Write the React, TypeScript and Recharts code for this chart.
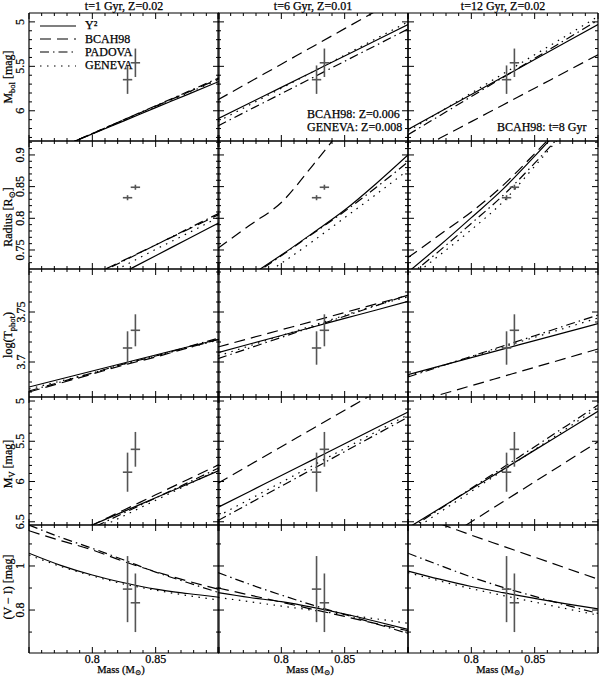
import React from 'react';
import { ComposedChart, Line, Scatter, XAxis, YAxis, ErrorBar, Legend } from 'recharts';

const FONT = "'Liberation Serif', 'DejaVu Serif', serif";
const FS = 12;

// ---- masses (x) ----
const MASS = [0.75, 0.775, 0.8, 0.825, 0.85, 0.875, 0.9];
const MASS_TICKS = [0.75, 0.76, 0.77, 0.78, 0.79, 0.8, 0.81, 0.82, 0.83, 0.84, 0.85, 0.86, 0.87, 0.88, 0.89, 0.9];
const MASS_MAJOR = [0.75, 0.8, 0.85, 0.9];
const MASS_LABEL_VALUES = [0.8, 0.85];
const MASS_LABEL_TEXT = ['0.8', '0.85'];

const MODELS = ['Y²', 'BCAH98', 'PADOVA', 'GENEVA'];
const DASHES = [undefined, '11 6', '9 4 1.5 4', '1.5 5.5'];

const COL_TITLES = ['t=1 Gyr, Z=0.02', 't=6 Gyr, Z=0.01', 't=12 Gyr, Z=0.02'];

// ---- binary components ----
const STAR_MASS = [0.8278, 0.834];
const STAR_MASS_ERR = [0.0037, 0.0037];
const STAR_MBOL = [5.65, 5.46];
const STAR_MBOL_ERR = [0.16, 0.16];
const STAR_RADIUS = [0.8325, 0.849];
const STAR_RADIUS_ERR = [0.004, 0.004];
const STAR_LOGT = [3.714, 3.7317];
const STAR_LOGT_ERR = [0.0167, 0.016];
const STAR_MV = [5.884, 5.6];
const STAR_MV_ERR = [0.243, 0.216];
const STAR_VI = [0.895, 0.833];
const STAR_VI_ERR = [0.15, 0.133];

// ---- model curves: [Y2, BCAH98, PADOVA, GENEVA] at MASS ----
const MBOL_1 = [
  [6.556, 6.409, 6.26, 6.113, 5.965, 5.818, 5.67],
  [6.565, 6.41, 6.257, 6.1, 5.948, 5.794, 5.64],
  [6.57, 6.41, 6.256, 6.1, 5.943, 5.787, 5.63],
  [6.56, 6.41, 6.258, 6.106, 5.954, 5.802, 5.65],
];
const MBOL_6 = [
  [6.09, 5.913, 5.737, 5.56, 5.383, 5.207, 5.03],
  [5.876, 5.676, 5.476, 5.276, 5.076, 4.876, 4.676],
  [6.17, 5.988, 5.807, 5.625, 5.443, 5.262, 5.08],
  [6.12, 5.933, 5.747, 5.56, 5.373, 5.187, 5.0],
];
const MBOL_12 = [
  [6.21, 6.013, 5.817, 5.62, 5.423, 5.227, 5.03],
  [6.498, 6.31, 6.122, 5.934, 5.746, 5.558, 5.37],
  [6.27, 6.055, 5.84, 5.625, 5.41, 5.195, 4.98],
  [6.23, 6.015, 5.8, 5.585, 5.37, 5.155, 4.94],
];
const RAD_1 = [
  [0.637, 0.663, 0.689, 0.715, 0.741, 0.767, 0.793],
  [0.663, 0.687, 0.71, 0.734, 0.758, 0.782, 0.806],
  [0.659, 0.684, 0.709, 0.733, 0.758, 0.783, 0.808],
  [0.648, 0.674, 0.7, 0.725, 0.751, 0.776, 0.802],
];
const RAD_6 = [
  [0.677, 0.709, 0.742, 0.777, 0.813, 0.855, 0.9],
  [0.7527, 0.789, 0.825, 0.884, 0.947, 1.01, 1.07],
  [0.675, 0.707, 0.741, 0.776, 0.811, 0.849, 0.889],
  [0.665, 0.697, 0.729, 0.764, 0.801, 0.838, 0.876],
];
const RAD_12 = [
  [0.715, 0.757, 0.801, 0.846, 0.898, 0.952, 1.005],
  [0.738, 0.774, 0.81, 0.852, 0.902, 0.955, 1.01],
  [0.708, 0.749, 0.792, 0.836, 0.887, 0.941, 0.995],
  [0.703, 0.742, 0.782, 0.826, 0.882, 0.94, 0.995],
];
const LOGT_1 = [
  [3.675, 3.683, 3.691, 3.699, 3.707, 3.715, 3.7227],
  [3.67, 3.679, 3.688, 3.697, 3.705, 3.714, 3.7227],
  [3.671, 3.68, 3.689, 3.698, 3.706, 3.715, 3.724],
  [3.673, 3.681, 3.689, 3.698, 3.706, 3.714, 3.722],
];
const LOGT_6 = [
  [3.7094, 3.718, 3.7265, 3.735, 3.7436, 3.752, 3.7607],
  [3.715, 3.7236, 3.7322, 3.7408, 3.7495, 3.7581, 3.7667],
  [3.7034, 3.714, 3.7246, 3.7352, 3.7458, 3.7564, 3.767],
  [3.706, 3.7162, 3.7263, 3.7365, 3.7467, 3.7568, 3.765],
];
const LOGT_12 = [
  [3.6874, 3.6959, 3.7044, 3.7129, 3.7214, 3.7299, 3.7384],
  [3.658, 3.6672, 3.6763, 3.6855, 3.6947, 3.7038, 3.713],
  [3.685, 3.6953, 3.7057, 3.716, 3.7263, 3.7367, 3.747],
  [3.686, 3.6957, 3.7053, 3.715, 3.7247, 3.7343, 3.744],
];
const MV_1 = [
  [6.878, 6.709, 6.54, 6.371, 6.202, 6.033, 5.864],
  [6.915, 6.728, 6.54, 6.353, 6.165, 5.978, 5.79],
  [6.951, 6.764, 6.577, 6.39, 6.204, 6.017, 5.83],
  [7.0, 6.808, 6.617, 6.425, 6.233, 6.042, 5.85],
];
const MV_6 = [
  [6.32, 6.123, 5.925, 5.728, 5.531, 5.333, 5.136],
  [6.02, 5.794, 5.568, 5.341, 5.115, 4.889, 4.663],
  [6.485, 6.271, 6.057, 5.843, 5.628, 5.414, 5.2],
  [6.43, 6.22, 6.01, 5.8, 5.59, 5.38, 5.17],
];
const MV_12 = [
  [6.576, 6.335, 6.093, 5.852, 5.61, 5.369, 5.127],
  [6.997, 6.749, 6.5, 6.252, 6.003, 5.755, 5.506],
  [6.601, 6.343, 6.084, 5.826, 5.567, 5.309, 5.05],
  [6.643, 6.383, 6.123, 5.863, 5.604, 5.344, 5.08],
];
const VI_1 = [
  [1.058, 1.003, 0.959, 0.924, 0.895, 0.875, 0.858],
  [1.16, 1.115, 1.073, 1.02, 0.974, 0.932, 0.894],
  [1.186, 1.13, 1.08, 1.027, 0.972, 0.925, 0.879],
  [1.05, 0.998, 0.955, 0.918, 0.89, 0.866, 0.845],
];
const VI_6 = [
  [0.879, 0.857, 0.838, 0.812, 0.782, 0.748, 0.712],
  [0.9, 0.868, 0.836, 0.803, 0.771, 0.738, 0.706],
  [0.97, 0.917, 0.868, 0.822, 0.78, 0.737, 0.694],
  [0.857, 0.838, 0.818, 0.799, 0.779, 0.76, 0.74],
];
const VI_12 = [
  [0.977, 0.94, 0.907, 0.879, 0.853, 0.828, 0.805],
  [1.24, 1.192, 1.14, 1.09, 1.04, 0.99, 0.94],
  [1.058, 1.003, 0.95, 0.903, 0.862, 0.822, 0.785],
  [0.97, 0.932, 0.897, 0.866, 0.836, 0.806, 0.777],
];

// ---- y-axis ticks ----
const MBOL_TICKS = [5, 5.1, 5.2, 5.3, 5.4, 5.5, 5.6, 5.7, 5.8, 5.9, 6, 6.1, 6.2, 6.3];
const MBOL_MAJOR = [5, 5.5, 6];
const MBOL_LABELS = ['5', '5.5', '6'];
const RAD_TICKS = [0.73, 0.74, 0.75, 0.76, 0.77, 0.78, 0.79, 0.8, 0.81, 0.82, 0.83, 0.84, 0.85, 0.86, 0.87, 0.88, 0.89, 0.9, 0.91, 0.92];
const RAD_MAJOR = [0.75, 0.8, 0.85, 0.9];
const RAD_LABELS = ['0.75', '0.8', '0.85', '0.9'];
const LOGT_TICKS = [3.67, 3.68, 3.69, 3.7, 3.71, 3.72, 3.73, 3.74, 3.75, 3.76, 3.77, 3.78, 3.79];
const LOGT_MAJOR = [3.7, 3.75];
const LOGT_LABELS = ['3.7', '3.75'];
const MV_TICKS = [5, 5.1, 5.2, 5.3, 5.4, 5.5, 5.6, 5.7, 5.8, 5.9, 6, 6.1, 6.2, 6.3, 6.4, 6.5];
const MV_MAJOR = [5, 5.5, 6, 6.5];
const MV_LABELS = ['5', '5.5', '6', '6.5'];
const VI_TICKS = [0.7, 0.8, 0.9, 1.0, 1.1];
const VI_MAJOR = [0.8, 1.0];
const VI_LABELS = ['0.8', '1'];

const ROWS = [
  { domain: [4.9, 6.34], reversed: true, ticks: MBOL_TICKS, major: MBOL_MAJOR, labels: MBOL_LABELS, curves: [MBOL_1, MBOL_6, MBOL_12], star: STAR_MBOL, starErr: STAR_MBOL_ERR },
  { domain: [0.72, 0.922], reversed: false, ticks: RAD_TICKS, major: RAD_MAJOR, labels: RAD_LABELS, curves: [RAD_1, RAD_6, RAD_12], star: STAR_RADIUS, starErr: STAR_RADIUS_ERR },
  { domain: [3.665, 3.793], reversed: false, ticks: LOGT_TICKS, major: LOGT_MAJOR, labels: LOGT_LABELS, curves: [LOGT_1, LOGT_6, LOGT_12], star: STAR_LOGT, starErr: STAR_LOGT_ERR },
  { domain: [4.95, 6.54], reversed: true, ticks: MV_TICKS, major: MV_MAJOR, labels: MV_LABELS, curves: [MV_1, MV_6, MV_12], star: STAR_MV, starErr: STAR_MV_ERR },
  { domain: [0.605, 1.186], reversed: false, ticks: VI_TICKS, major: VI_MAJOR, labels: VI_LABELS, curves: [VI_1, VI_6, VI_12], star: STAR_VI, starErr: STAR_VI_ERR },
];

const COL_X = [29, 218, 408];
const ROW_Y = [13, 141, 269, 397, 525];
const PW = 190;
const PH = 128;
const P = 30;
const MAJOR_LEN = 6;
const MINOR_LEN = 3;

const near = (a: number, b: number) => Math.abs(a - b) < 1e-6;

const makeXTick = (side: 'top' | 'bottom', showLabels: boolean) => (props: any) => {
  const { x, y, payload } = props;
  const v = payload.value;
  const major = MASS_MAJOR.some((m) => near(m, v));
  const len = major ? MAJOR_LEN : MINOR_LEN;
  const dir = side === 'bottom' ? -1 : 1;
  const li = MASS_LABEL_VALUES.findIndex((m) => near(m, v));
  return (
    <g>
      <line x1={x} y1={y} x2={x} y2={y + dir * len} stroke="#000" strokeWidth={1} />
      {showLabels && li >= 0 && (
        <text x={x} y={y + 9.5} textAnchor="middle" fontFamily={FONT} fontSize={FS} fill="#000" stroke="#000" strokeWidth={0.25}>
          {MASS_LABEL_TEXT[li]}
        </text>
      )}
    </g>
  );
};

const makeYTick = (side: 'left' | 'right', major: number[], labels: string[] | null) => (props: any) => {
  const { x, y, payload } = props;
  const v = payload.value;
  const mi = major.findIndex((m) => near(m, v));
  const len = mi >= 0 ? MAJOR_LEN : MINOR_LEN;
  const dir = side === 'left' ? 1 : -1;
  return (
    <g>
      <line x1={x} y1={y} x2={x + dir * len} y2={y} stroke="#000" strokeWidth={1} />
      {labels && mi >= 0 && (
        <text
          x={x - 8.5}
          y={y}
          transform={`rotate(-90, ${x - 8.5}, ${y})`}
          textAnchor="middle"
          dominantBaseline="central"
          fontFamily={FONT}
          fontSize={FS}
          fill="#000"
          stroke="#000"
          strokeWidth={0.25}
        >
          {labels[mi]}
        </text>
      )}
    </g>
  );
};

const renderLegend = () => (
  <div style={{ fontFamily: FONT, fontSize: FS, color: '#000', WebkitTextStroke: '0.25px #000' }}>
    {MODELS.map((name, i) => (
      <div key={name} style={{ display: 'flex', alignItems: 'center', height: 13.4 }}>
        <svg width={36} height={6} style={{ display: 'block' }}>
          <line x1={0} y1={3} x2={36} y2={3} stroke="#000" strokeWidth={1.2} strokeDasharray={DASHES[i]} />
        </svg>
        <span style={{ marginLeft: 9, lineHeight: '13px' }}>{name}</span>
      </div>
    ))}
  </div>
);

function Panel({ row, col }: { row: number; col: number }) {
  const r = ROWS[row];
  const curves = r.curves[col];
  const stars = STAR_MASS.map((m, i) => ({ m, v: r.star[i], ex: STAR_MASS_ERR[i], ey: r.starErr[i] }));
  const axisLine = { stroke: '#000', strokeWidth: 1.2 };
  return (
    <div style={{ position: 'absolute', left: COL_X[col] - P, top: ROW_Y[row] - P }}>
      <ComposedChart width={PW + 2 * P} height={PH + 2 * P} margin={{ top: 0, right: 0, bottom: 0, left: 0 }}>
        <XAxis
          xAxisId="b"
          type="number"
          dataKey="m"
          orientation="bottom"
          domain={[0.75, 0.9]}
          allowDataOverflow
          ticks={MASS_TICKS}
          interval={0}
          height={P}
          tickSize={0}
          tickMargin={0}
          tickLine={false}
          axisLine={axisLine}
          tick={makeXTick('bottom', row === 4)}
        />
        <XAxis
          xAxisId="t"
          type="number"
          dataKey="m"
          orientation="top"
          domain={[0.75, 0.9]}
          allowDataOverflow
          ticks={MASS_TICKS}
          interval={0}
          height={P}
          tickSize={0}
          tickMargin={0}
          tickLine={false}
          axisLine={axisLine}
          tick={makeXTick('top', false)}
        />
        <YAxis
          yAxisId="l"
          type="number"
          dataKey="v"
          orientation="left"
          domain={r.domain}
          reversed={r.reversed}
          allowDataOverflow
          ticks={r.ticks}
          interval={0}
          width={P}
          tickSize={0}
          tickMargin={0}
          tickLine={false}
          axisLine={axisLine}
          tick={makeYTick('left', r.major, col === 0 ? r.labels : null)}
        />
        <YAxis
          yAxisId="r"
          type="number"
          dataKey="v"
          orientation="right"
          domain={r.domain}
          reversed={r.reversed}
          allowDataOverflow
          ticks={r.ticks}
          interval={0}
          width={P}
          tickSize={0}
          tickMargin={0}
          tickLine={false}
          axisLine={axisLine}
          tick={makeYTick('right', r.major, null)}
        />
        {MODELS.map((name, i) => (
          <Line
            key={name}
            name={name}
            xAxisId="b"
            yAxisId="l"
            data={MASS.map((m, j) => ({ m, v: curves[i][j] }))}
            dataKey="v"
            type="monotone"
            stroke="#000"
            strokeWidth={1.2}
            strokeDasharray={DASHES[i]}
            dot={false}
            activeDot={false}
            isAnimationActive={false}
          />
        ))}
        <Scatter
          xAxisId="b"
          yAxisId="l"
          data={stars}
          dataKey="v"
          legendType="none"
          shape={() => <g />}
          isAnimationActive={false}
        >
          <ErrorBar dataKey="ey" direction="y" width={0} stroke="#555" strokeWidth={1.6} isAnimationActive={false} />
          <ErrorBar dataKey="ex" direction="x" width={0} stroke="#555" strokeWidth={1.6} isAnimationActive={false} />
        </Scatter>
        {row === 0 && col === 0 && (
          <Legend
            layout="vertical"
            align="center"
            verticalAlign="middle"
            content={renderLegend}
            wrapperStyle={{ position: 'absolute', left: P + 11, top: P + 6, width: 'auto', height: 'auto' }}
          />
        )}
      </ComposedChart>
    </div>
  );
}

function Overlay() {
  const t = { fontFamily: FONT, fontSize: FS, fill: '#000', stroke: '#000', strokeWidth: 0.25 } as const;
  const yTitleX = 12;
  return (
    <svg width={600} height={677} style={{ position: 'absolute', left: 0, top: 0, pointerEvents: 'none' }}>
      {COL_TITLES.map((s, c) => (
        <text key={s} x={COL_X[c] + 95} y={10} textAnchor="middle" {...t}>{s}</text>
      ))}
      {COL_X.map((x, c) => (
        <text key={'mx' + c} x={x + 92} y={673} textAnchor="middle" {...t} fontSize={10.5}>
          Mass (M<tspan dy={2} fontSize={7.5}>⊙</tspan><tspan dy={-2}>)</tspan>
        </text>
      ))}
      <text transform={`translate(${yTitleX},77) rotate(-90)`} textAnchor="middle" {...t}>
        M<tspan dy={2.5} fontSize={8.5}>bol</tspan><tspan dy={-2.5}> [mag]</tspan>
      </text>
      <text transform={`translate(${yTitleX},217) rotate(-90)`} textAnchor="middle" {...t}>
        Radius [R<tspan dy={2.5} fontSize={8.5}>⊙</tspan><tspan dy={-2.5}>]</tspan>
      </text>
      <text transform={`translate(${yTitleX},335) rotate(-90)`} textAnchor="middle" {...t}>
        log(T<tspan dy={2.5} fontSize={8.5}>phot</tspan><tspan dy={-2.5}>)</tspan>
      </text>
      <text transform={`translate(${yTitleX},464) rotate(-90)`} textAnchor="middle" {...t}>
        M<tspan dy={2.5} fontSize={8.5}>V</tspan><tspan dy={-2.5}> [mag]</tspan>
      </text>
      <text transform={`translate(${yTitleX},587) rotate(-90)`} textAnchor="middle" {...t}>
        (V − I) [mag]
      </text>
      <text x={307} y={118} {...t}>BCAH98: Z=0.006</text>
      <text x={307} y={131} {...t}>GENEVA: Z=0.008</text>
      <text x={497} y={131} {...t}>BCAH98: t=8 Gyr</text>
    </svg>
  );
}

export default function App() {
  const panels = [];
  for (let r = 0; r < 5; r++) for (let c = 0; c < 3; c++) panels.push(<Panel key={`${r}-${c}`} row={r} col={c} />);
  return (
    <div style={{ position: 'absolute', left: 0, top: 0, width: 600, height: 677, background: '#fff', overflow: 'hidden' }}>
      {panels}
      <Overlay />
    </div>
  );
}
